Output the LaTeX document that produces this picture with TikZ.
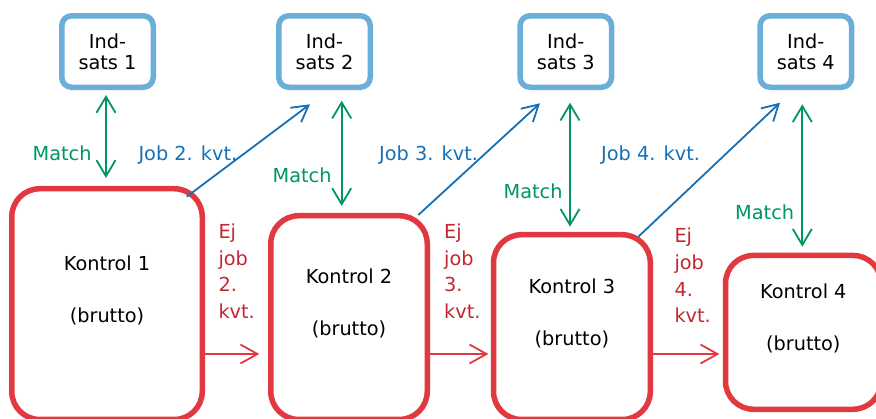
\documentclass[tikz,border=0pt]{standalone}
\usepackage{fontspec}
\setmainfont{DejaVu Sans}
\usetikzlibrary{arrows.meta}

\definecolor{indblue}{RGB}{107,174,216}
\definecolor{kred}{RGB}{226,56,64}
\definecolor{ejred}{RGB}{196,38,48}
\definecolor{matchgreen}{RGB}{0,150,95}
\definecolor{jobblue}{RGB}{22,112,182}

\tikzset{
  indbox/.style={draw=indblue, line width=5.5pt, rounded corners=10pt, minimum width=91.5pt, minimum height=71.5pt, inner sep=0pt, align=center, font=\fontsize{19.3}{20.7}\selectfont},
  kbox/.style={draw=kred, line width=5.5pt, rounded corners=28pt, inner sep=0pt},
  ktxt/.style={align=center, inner sep=0pt, font=\fontsize{19.3}{26}\selectfont},
  lbl/.style={inner sep=0pt, font=\fontsize{19.3}{26.7}\selectfont},
  ejlbl/.style={lbl, ejred, align=left},
  match/.style={matchgreen, line width=1.8pt, {Straight Barb[length=16pt,width=19pt]}-{Straight Barb[length=16pt,width=19pt]}},
  job/.style={jobblue, line width=1.8pt, -{Straight Barb[length=16pt,width=18pt]}},
  ej/.style={kred, line width=1.8pt, -{Straight Barb[length=17pt,width=19pt]}}
}

\begin{document}
\begin{tikzpicture}[x=1pt,y=-1pt]
\useasboundingbox (0,0) rectangle (876,418);
\clip (0,0) rectangle (876,418);
% indsats
\node[indbox] (i1) at (107.5,51.5) {Ind-\\sats 1};
\node[indbox] (i2) at (324.5,51.5) {Ind-\\sats 2};
\node[indbox] (i3) at (565.8,51.5) {Ind-\\sats 3};
\node[indbox] (i4) at (805.8,51.5) {Ind-\\sats 4};
% kontrol
\node[kbox, minimum width=190.5pt, minimum height=230.75pt] (k1) at (107,304.1) {};
\node[kbox, minimum width=156.5pt, minimum height=203.75pt] (k2) at (349,317.6) {};
\node[kbox, minimum width=156.8pt, minimum height=184.75pt] (k3) at (571.9,327.1) {};
\node[kbox, minimum width=155.6pt, minimum height=153.8pt] (k4) at (803.3,332.35) {};
\node[ktxt] (k1t) at ([yshift=14pt]k1.center) {Kontrol 1\\[26pt](brutto)};
\node[ktxt] (k2t) at ([yshift=14pt]k2.center) {Kontrol 2\\[26pt](brutto)};
\node[ktxt] (k3t) at ([yshift=14pt]k3.center) {Kontrol 3\\[26pt](brutto)};
\node[ktxt] (k4t) at ([yshift=14pt]k4.center) {Kontrol 4\\[26pt](brutto)};
% match
\draw[match] ([xshift=-1.5pt,yshift=-5pt]i1.south) -- ([xshift=-1pt,yshift=8pt]k1.north);
\draw[match] ([xshift=17.2pt,yshift=-10.7pt]i2.south) -- ([xshift=-7.3pt,yshift=7pt]k2.north);
\draw[match] ([xshift=4.2pt,yshift=-12.7pt]i3.south) -- ([xshift=-1.9pt,yshift=5.3pt]k3.north);
\draw[match] ([xshift=-3.5pt,yshift=-14.3pt]i4.south) -- ([xshift=-1pt,yshift=6pt]k4.north);
\node[lbl, matchgreen, anchor=base east] (m1) at (91.7,160.7) {Match};
\node[lbl, matchgreen, anchor=base east] (m2) at (331.7,182.7) {Match};
\node[lbl, matchgreen, anchor=base east] (m3) at (562.7,198.3) {Match};
\node[lbl, matchgreen, anchor=base east] (m4) at (794.3,219) {Match};
% job
\draw[job] ([xshift=-18.3pt,yshift=-10.7pt]k1.north east) -- ([xshift=-14.5pt,yshift=-14.3pt]i2.south);
\draw[job] ([xshift=-11.7pt,yshift=-2pt]k2.north east) -- ([xshift=-25.8pt,yshift=-13.3pt]i3.south);
\draw[job] ([xshift=-14.7pt,yshift=-4.7pt]k3.north east) -- ([xshift=-25.8pt,yshift=-12.7pt]i4.south);
\node[lbl, jobblue, anchor=base west] (j2) at (138.3,160.7) {Job 2. kvt.};
\node[lbl, jobblue, anchor=base west] (j3) at (379,160.7) {Job 3. kvt.};
\node[lbl, jobblue, anchor=base west] (j4) at (601,160.3) {Job 4. kvt.};
% ej job
\coordinate (ejy) at (0,354);
\draw[ej, shorten >=8.7pt] (k1.east |- ejy) -- (k2.west |- ejy);
\draw[ej, shorten >=2.4pt] (k2.east |- ejy) -- (k3.west |- ejy);
\draw[ej, shorten >=3.4pt] (k3.east |- ejy) -- (k4.west |- ejy);
\node[ejlbl, anchor=north west] (e2) at (218.3,223.6) {Ej\\job\\2.\\kvt.};
\node[ejlbl, anchor=north west] (e3) at (444,223.6) {Ej\\job\\3.\\kvt.};
\node[ejlbl, anchor=north west] (e4) at (674.3,228) {Ej\\job\\4.\\kvt.};
\end{tikzpicture}
\end{document}
